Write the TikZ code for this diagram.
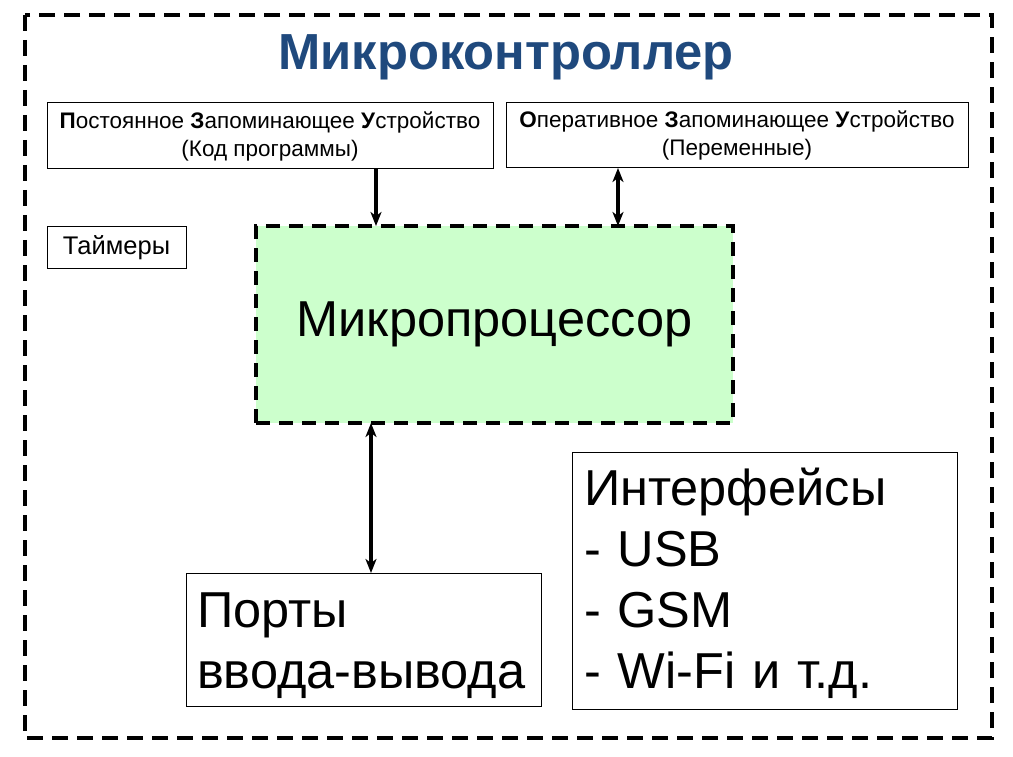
\documentclass[tikz,border=0pt]{standalone}
\usepackage{fontspec}
\setmainfont{Liberation Sans}
\usetikzlibrary{arrows.meta}
\definecolor{titleblue}{RGB}{31,73,125}
\definecolor{cpugreen}{RGB}{204,255,204}

\begin{document}
\begin{tikzpicture}[x=1pt, y=-1pt,
    box/.style={draw, line width=1pt, inner sep=0pt, outer sep=0pt, anchor=north west},
    bigtext/.style={font=\fontsize{50.5}{61}\selectfont, align=left},
    bus/.style={line width=4pt, -{Stealth[length=14pt,width=11pt,inset=4pt]}},
    dbus/.style={line width=4pt, {Stealth[length=14pt,width=11pt,inset=4pt]}-{Stealth[length=14pt,width=11pt,inset=4pt]}}]
  \useasboundingbox (0,0) rectangle (1013,757);
  \draw[line width=4pt, dash pattern=on 16pt off 9pt] (25,15) rectangle (992,738);
  \node (title) at (506,57) {\fontsize{50.7}{60}\selectfont\bfseries\color{titleblue}Микроконтроллер};
  \node[box, minimum width=446, minimum height=66, align=center,
        font=\fontsize{22.5}{28}\selectfont] (rom) at (47,103)
        {\textbf{П}остоянное \textbf{З}апоминающее \textbf{У}стройство\\(Код программы)};
  \node[box, minimum width=462, minimum height=65, align=center,
        font=\fontsize{22.5}{28}\selectfont] (ram) at (506,103)
        {\textbf{О}перативное \textbf{З}апоминающее \textbf{У}стройство\\(Переменные)};
  \node[box, minimum width=139, minimum height=41,
        font=\fontsize{25.5}{30}\selectfont] (timers) at (47,227) {Таймеры};
  \node[box, fill=cpugreen, line width=3.5pt, dash pattern=on 14pt off 9pt,
        minimum width=477, minimum height=197,
        font=\fontsize{50.5}{60}\selectfont] (cpu) at (256,226) {Микропроцессор};
  \node[box, bigtext, minimum width=355, minimum height=133, text depth=59pt,
        text width=333, inner xsep=11] (ports) at (186,573)
        {Порты\\ввода-вывода};
  \node[box, bigtext, minimum width=385, minimum height=257, text depth=187pt,
        text width=361, inner xsep=12] (iface) at (572,452)
        {Интерфейсы\\- USB\\- GSM\\- Wi-Fi и т.д.};
  % шины
  \draw[bus] ([xshift=106pt]rom.south) -- ([xshift=-118.5pt]cpu.north);
  \draw[dbus] ([xshift=-119pt]ram.south) -- ([xshift=123.5pt]cpu.north);
  \draw[dbus] ([xshift=-123.5pt]cpu.south) -- ([xshift=7.5pt]ports.north);
\end{tikzpicture}
\end{document}
